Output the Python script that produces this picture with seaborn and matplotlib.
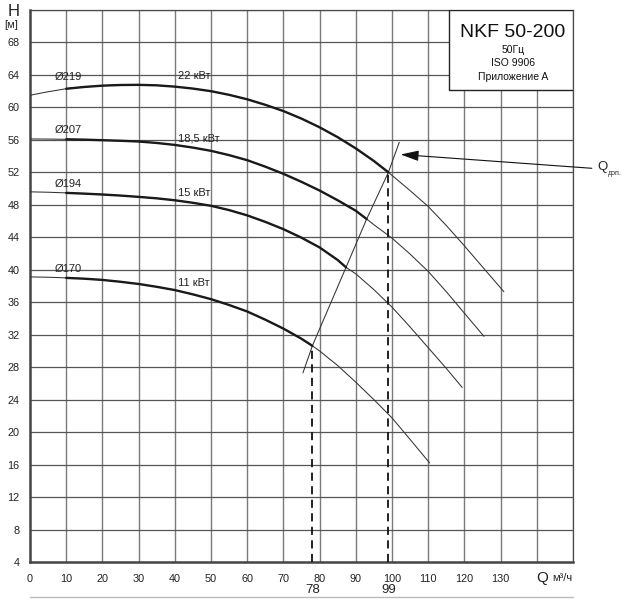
import matplotlib
matplotlib.use("Agg")
import matplotlib.pyplot as plt
from matplotlib.patches import Rectangle
from matplotlib.lines import Line2D
import seaborn as sns
import pandas as pd

# ---------------- data ----------------
q_219 = [0, 5, 10, 15, 20, 25, 30, 35, 40, 45, 50, 55, 60, 65, 70, 75, 80, 85, 90, 95, 99, 105, 110, 115, 120, 125, 130.9]
h_219 = [61.5, 61.93, 62.3, 62.52, 62.68, 62.76, 62.78, 62.72, 62.56, 62.32, 62.0, 61.55, 61.0, 60.32, 59.55, 58.62, 57.55, 56.33, 54.95, 53.4, 52.0, 49.75, 47.8, 45.45, 42.95, 40.35, 37.3]

q_207 = [0, 5, 10, 15, 20, 25, 30, 35, 40, 45, 50, 55, 60, 65, 70, 75, 80, 85, 90, 93, 95, 100, 105, 110, 115, 120, 125.4]
h_207 = [56.12, 56.1, 56.07, 56.03, 55.96, 55.89, 55.8, 55.62, 55.38, 55.05, 54.65, 54.12, 53.5, 52.7, 51.82, 50.83, 49.76, 48.56, 47.27, 46.25, 45.55, 43.9, 41.93, 39.8, 37.3, 34.65, 31.8]

q_194 = [0, 5, 10, 15, 20, 25, 30, 35, 40, 45, 50, 55, 60, 65, 70, 75, 80, 85, 87.3, 90, 95, 100, 105, 110, 115, 119.4]
h_194 = [49.6, 49.55, 49.47, 49.38, 49.27, 49.14, 48.98, 48.8, 48.56, 48.25, 47.88, 47.35, 46.7, 45.9, 45.0, 43.95, 42.75, 41.2, 40.3, 39.5, 37.55, 35.4, 32.95, 30.4, 27.85, 25.5]

q_170 = [0, 5, 10, 15, 20, 25, 30, 35, 40, 45, 50, 55, 60, 65, 70, 75, 78, 80, 85, 90, 95, 100, 105, 110.4]
h_170 = [39.12, 39.08, 39.0, 38.9, 38.75, 38.52, 38.25, 37.9, 37.5, 36.97, 36.38, 35.66, 34.86, 33.85, 32.75, 31.5, 30.63, 30.0, 28.2, 26.15, 24.0, 21.75, 19.1, 16.2]

diameters = ["Ø219", "Ø207", "Ø194", "Ø170"]
powers = ["22 кВт", "18,5 кВт", "15 кВт", "11 кВт"]
op_limits = [99, 93, 87.3, 78]          # end of bold (allowed) section
op_start = 10

q_sys = [75.4, 78, 87.3, 93, 99, 102]
h_sys = [27.3, 30.63, 40.3, 46.25, 52.0, 55.7]

duty_q = [78, 99]
duty_h = [30.63, 52.0]

x_ticks = [0, 10, 20, 30, 40, 50, 60, 70, 80, 90, 100, 110, 120, 130]
y_ticks = [4, 8, 12, 16, 20, 24, 28, 32, 36, 40, 44, 48, 52, 56, 60, 64, 68]

# ---------------- style ----------------
sns.set_style("white")
plt.rcParams["font.family"] = ["Liberation Sans", "DejaVu Sans"]

fig = plt.figure(figsize=(6.22, 6.0), dpi=100)
ax = fig.add_axes([30 / 622, 1 - 562 / 600, 543 / 622, 552 / 600])
ax.set_xlim(0, 150)
ax.set_ylim(4, 72)

# grid
for x in range(10, 151, 10):
    ax.axvline(x, color="#7a7a7a", lw=1.0, zorder=1)
for y in range(8, 73, 4):
    ax.axhline(y, color="#555555", lw=0.9, zorder=1)

curves = [(q_219, h_219), (q_207, h_207), (q_194, h_194), (q_170, h_170)]
frames = []
for name, (qs, hs) in zip(diameters, curves):
    frames.append(pd.DataFrame({"Q": qs, "H": hs, "curve": name}))
df = pd.concat(frames, ignore_index=True)

sns.lineplot(data=df, x="Q", y="H", units="curve", estimator=None, sort=False,
             color="#333333", lw=0.75, ax=ax, zorder=3)
bold = pd.concat([f[(f.Q >= op_start) & (f.Q <= lim)] for f, lim in zip(frames, op_limits)],
                 ignore_index=True)
sns.lineplot(data=bold, x="Q", y="H", units="curve", estimator=None, sort=False,
             color="#1a1a1a", lw=1.7, ax=ax, zorder=4)

# system curve
sys_df = pd.DataFrame({"Q": q_sys, "H": h_sys})
sns.lineplot(data=sys_df, x="Q", y="H", estimator=None, sort=False,
             color="#333333", lw=0.75, ax=ax, zorder=3)

# dashed duty lines
for q, h in zip(duty_q, duty_h):
    ax.plot([q, q], [4, h], color="#111111", lw=1.3, dashes=(4.5, 3), zorder=5)
    ax.text(q, -0.051, str(q), transform=ax.get_xaxis_transform(), ha="center",
            va="center", fontsize=9.5, color="#222222", clip_on=False)

# curve labels
d_y = [63.7, 57.25, 50.6, 40.1]
p_y = [63.9, 56.15, 49.45, 38.4]
for lab, y in zip(diameters, d_y):
    ax.text(6.9, y, lab, fontsize=8, va="center", ha="left", color="#222222", zorder=6)
for lab, y in zip(powers, p_y):
    ax.text(40.8, y, lab, fontsize=8, va="center", ha="left", color="#222222", zorder=6)

# info box
ax.add_patch(Rectangle((115.8, 62.2), 34.2, 9.8, facecolor="white", edgecolor="#222222",
                       lw=1.0, zorder=7))
ax.text(133.4, 69.2, "NKF 50-200", fontsize=14, ha="center", va="center", zorder=8, color="#111111")
ax.text(133.4, 67.1, "50Гц", fontsize=7.5, ha="center", va="center", zorder=8, color="#111111")
ax.text(133.4, 65.5, "ISO 9906", fontsize=7.5, ha="center", va="center", zorder=8, color="#111111")
ax.text(133.4, 63.7, "Приложение A", fontsize=7.5, ha="center", va="center", zorder=8, color="#111111")

# arrow to Q_доп
ax.annotate("", xy=(102.4, 54.2), xytext=(155.2, 52.5),
            arrowprops=dict(arrowstyle="-|>,head_length=1.1,head_width=0.32",
                            color="#111111", lw=0.8, shrinkA=0, shrinkB=0),
            annotation_clip=False, zorder=8)
ax.text(156.6, 52.7, "Q", fontsize=9.5, ha="left", va="center", clip_on=False, color="#222222")
ax.text(159.6, 51.9, "доп.", fontsize=5, ha="left", va="center", clip_on=False, color="#222222")

# axes / ticks
for s in ["left", "bottom"]:
    ax.spines[s].set_color("#444444")
    ax.spines[s].set_linewidth(1.8)
for s in ["top", "right"]:
    ax.spines[s].set_color("#4a4a4a")
    ax.spines[s].set_linewidth(0.9)

ax.set_xticks(list(range(0, 151, 10)))
ax.set_xticklabels([str(v) for v in x_ticks] + ["", ""])
ax.set_xticks(list(range(5, 150, 10)), minor=True)
ax.set_yticks(y_ticks + [72])
ax.set_yticklabels([str(v) for v in y_ticks] + ["H"])
ax.set_yticks(list(range(6, 72, 4)), minor=True)
ax.tick_params(axis="both", which="major", length=4.5, width=1.0, color="#444444",
               labelsize=7.8, labelcolor="#222222", direction="out")
ax.tick_params(axis="both", which="minor", length=2.5, width=0.9, color="#444444",
               direction="out")
ax.tick_params(axis="x", which="major", pad=4)
ax.tick_params(axis="y", which="major", pad=3)
ax.get_yticklabels()[-1].set_fontsize(12)
ax.text(-3.3, 70.1, "[м]", fontsize=8, ha="right", va="center", clip_on=False, color="#222222")
ax.set_xlabel("")
ax.set_ylabel("")

ax.text(141.5, -0.0285, "Q", fontsize=11, transform=ax.get_xaxis_transform(),
        ha="center", va="center", clip_on=False, color="#222222")
ax.text(144.2, -0.0285, "м³/ч", fontsize=8, transform=ax.get_xaxis_transform(),
        ha="left", va="center", clip_on=False, color="#222222")

fig.add_artist(Line2D([30 / 622, 573 / 622], [1 - 597 / 600, 1 - 597 / 600],
                      color="#bbbbbb", lw=1.0))

fig.savefig("out.png", dpi=100)
